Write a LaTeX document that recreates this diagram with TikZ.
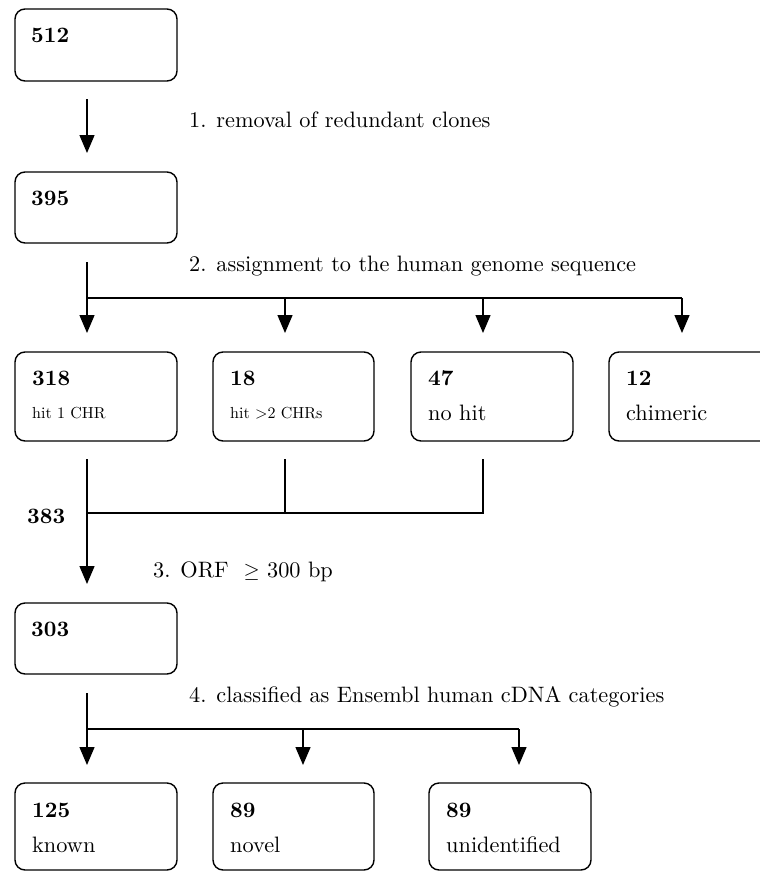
\documentclass[tikz,border=0pt]{standalone}
\usepackage{fontspec}
\setmainfont{lmroman10}[Extension=.otf, UprightFont=*-regular, BoldFont=*-bold, ItalicFont=*-italic, BoldItalicFont=*-bolditalic]
\usetikzlibrary{arrows.meta,calc}
\tikzset{
  box/.style={draw, line width=1.4pt, rounded corners=10pt, anchor=north west, inner sep=0pt, outer sep=0pt},
  num/.style={font=\bfseries\fontsize{22}{26}\selectfont, anchor=base west, inner sep=0pt},
  txt/.style={font=\fontsize{22.3}{26}\selectfont, anchor=base west, inner sep=0pt},
  smalltxt/.style={font=\fontsize{16}{19}\selectfont, anchor=base west, inner sep=0pt},
  arr/.style={-{Triangle[width=15pt,length=18pt]}, line width=1.3pt},
  ln/.style={line width=1.3pt}
}
\begin{document}
\begin{tikzpicture}[x=1pt,y=-1pt]
\useasboundingbox (0,0) rectangle (760,871);
\clip (0,0) rectangle (760,871);
% boxes
\node[box, minimum width=162pt, minimum height=72pt] (b512) at (15,9) {};
\node[box, minimum width=162pt, minimum height=71pt] (b395) at (15,172) {};
\node[box, minimum width=162pt, minimum height=89pt] (b318) at (15,352) {};
\node[box, minimum width=161pt, minimum height=89pt] (b18) at (213,352) {};
\node[box, minimum width=162pt, minimum height=89pt] (b47) at (411,352) {};
\node[box, minimum width=162pt, minimum height=89pt] (b12) at (609,352) {};
\node[box, minimum width=162pt, minimum height=71pt] (b303) at (15,603) {};
\node[box, minimum width=162pt, minimum height=87pt] (b125) at (15,783) {};
\node[box, minimum width=161pt, minimum height=87pt] (b89n) at (213,783) {};
\node[box, minimum width=162pt, minimum height=87pt] (b89u) at (429,783) {};
% box texts
\node[num] (t512) at ($(b512.north west)+(16,33)$) {512};
\node[num] (t395) at ($(b395.north west)+(16,33)$) {395};
\node[num] (t318) at ($(b318.north west)+(17,33)$) {318};
\node[smalltxt] (s318) at ($(b318.north west)+(17,66)$) {hit 1 CHR};
\node[num] (t18) at ($(b18.north west)+(17,33)$) {18};
\node[smalltxt] (s18) at ($(b18.north west)+(17,66)$) {hit >2 CHRs};
\node[num] (t47) at ($(b47.north west)+(17,33)$) {47};
\node[txt] (s47) at ($(b47.north west)+(17,68)$) {no hit};
\node[num] (t12) at ($(b12.north west)+(17,33)$) {12};
\node[txt] (s12) at ($(b12.north west)+(17,68)$) {chimeric};
\node[num] (t303) at ($(b303.north west)+(16,33)$) {303};
\node[num] (t125) at ($(b125.north west)+(17,34)$) {125};
\node[txt] (s125) at ($(b125.north west)+(17,69)$) {known};
\node[num] (t89n) at ($(b89n.north west)+(17,34)$) {89};
\node[txt] (s89n) at ($(b89n.north west)+(17,69)$) {novel};
\node[num] (t89u) at ($(b89u.north west)+(17,34)$) {89};
\node[txt] (s89u) at ($(b89u.north west)+(17,69)$) {unidentified};
\node[num] (t383) at (27,523) {383};
% step labels
\node[txt] (l1) at (189,127) {1. removal of redundant clones};
\node[txt] (l2) at (189,271) {2. assignment to the human genome sequence};
\node[txt] (l3) at (153,577) {3. ORF \ $\geq$ 300 bp};
\node[txt] (l4) at (189,702) {4. classified as Ensembl human cDNA categories};
% connector coordinates
\coordinate (a1s) at (87,99);
\coordinate (a1e) at (87,153);
\coordinate (a2s) at (87,262);
\coordinate (j2a) at (87,298);
\coordinate (j2b) at (285,298);
\coordinate (j2c) at (483,298);
\coordinate (j2d) at (682,298);
\coordinate (e2a) at (87,333);
\coordinate (e2b) at (285,333);
\coordinate (e2c) at (483,333);
\coordinate (e2d) at (682,333);
\coordinate (m3a) at (87,459);
\coordinate (m3b) at (285,459);
\coordinate (m3c) at (483,459);
\coordinate (n3a) at (87,513);
\coordinate (n3b) at (285,513);
\coordinate (n3c) at (483,513);
\coordinate (a3e) at (87,584);
\coordinate (a4s) at (87,693);
\coordinate (j4a) at (87,729);
\coordinate (j4b) at (303,729);
\coordinate (j4c) at (519,729);
\coordinate (e4a) at (87,765);
\coordinate (e4b) at (303,765);
\coordinate (e4c) at (519,765);
% connectors
\draw[arr] (a1s) -- (a1e);
\draw[ln] (a2s) -- (j2a) -- (j2d);
\draw[arr] (j2a) -- (e2a);
\draw[arr] (j2b) -- (e2b);
\draw[arr] (j2c) -- (e2c);
\draw[arr] (j2d) -- (e2d);
\draw[ln] (m3a) -- (n3a);
\draw[ln] (m3b) -- (n3b);
\draw[ln] (m3c) -- (n3c) -- (n3a);
\draw[arr] (n3a) -- (a3e);
\draw[ln] (a4s) -- (j4a) -- (j4c);
\draw[arr] (j4a) -- (e4a);
\draw[arr] (j4b) -- (e4b);
\draw[arr] (j4c) -- (e4c);
\end{tikzpicture}
\end{document}
